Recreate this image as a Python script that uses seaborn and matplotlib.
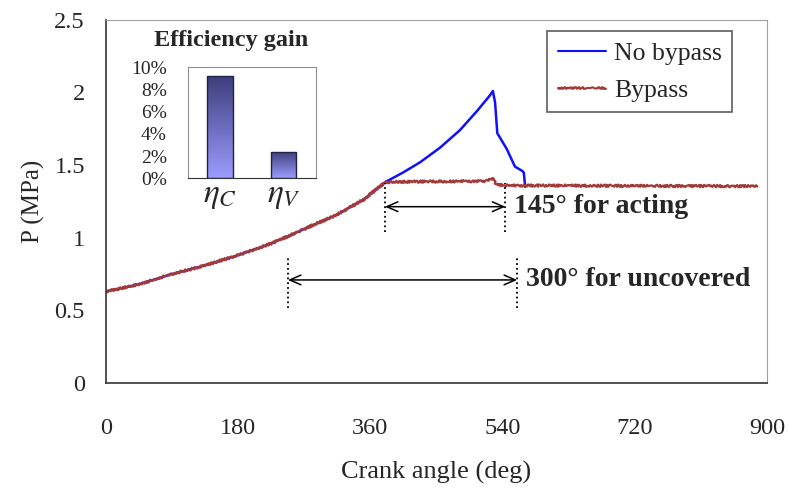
import numpy as np
import pandas as pd
import matplotlib
matplotlib.use("Agg")
import matplotlib.pyplot as plt
from matplotlib.colors import LinearSegmentedColormap
import seaborn as sns

# pressure trace (crank angle in deg, P in MPa)
common_angle = [0, 45, 90, 135, 180, 225, 270, 315, 350, 380]
common_p = [0.63, 0.68, 0.75, 0.81, 0.88, 0.96, 1.06, 1.16, 1.26, 1.38]

nobypass_angle = [383, 405, 428, 455, 482, 505, 523, 527, 530, 533, 546, 557, 567, 569, 571]
nobypass_p = [1.39, 1.45, 1.52, 1.62, 1.74, 1.87, 1.98, 2.01, 1.93, 1.72, 1.61, 1.49, 1.46, 1.45, 1.35]

bypass_angle = [390, 520, 526, 532, 545, 887]
bypass_p = [1.385, 1.39, 1.41, 1.365, 1.36, 1.355]

# inset: efficiency gain
gain_labels = [r"$\eta_C$", r"$\eta_V$"]
gain_values = [9.2, 2.4]

# annotation spans (deg)
acting_span = [380, 544]
uncovered_span = [248, 560]

sns.set_style("white")
plt.rcParams["font.family"] = ["Liberation Serif", "DejaVu Serif"]
plt.rcParams["mathtext.fontset"] = "stix"

df = pd.concat([
    pd.DataFrame({"angle": common_angle + nobypass_angle,
                  "P": common_p + nobypass_p, "case": "No bypass"}),
    pd.DataFrame({"angle": common_angle + bypass_angle,
                  "P": common_p + bypass_p, "case": "Bypass"}),
])

fig = plt.figure(figsize=(7.89, 4.95), dpi=100)
ax = fig.add_axes([0.134, 0.226, 0.838, 0.734])

sns.lineplot(data=df, x="angle", y="P", hue="case", sort=False, estimator=None,
             palette={"No bypass": "#1010ff", "Bypass": "#a33a3a"}, ax=ax)
ax.lines[0].set_linewidth(1.8)
ax.lines[1].set_linewidth(1.6)
ax.lines[1].set_sketch_params(1.2, 3, 2)

ax.set_xlim(0, 900)
ax.set_ylim(0, 2.5)
ax.set_xticks([0, 180, 360, 540, 720, 900])
ax.set_yticks([0, 0.5, 1, 1.5, 2, 2.5])
ax.set_yticklabels(["0", "0.5", "1", "1.5", "2", "2.5"])
ax.tick_params(direction="in", length=6, labelsize=17.5, color="#333333")
ax.tick_params(axis="x", pad=25)
ax.tick_params(axis="y", pad=15)
ax.set_xlabel("Crank angle (deg)", fontsize=19, labelpad=16)
ax.set_ylabel("P (MPa)", fontsize=18, labelpad=7)
for s in ["top", "right"]:
    ax.spines[s].set_color("#a0a0a0")
for s in ["left", "bottom"]:
    ax.spines[s].set_color("#333333")
    ax.spines[s].set_linewidth(1.2)

leg = ax.legend(loc="upper left", bbox_to_anchor=(0.668, 0.968), fontsize=18.5,
                frameon=True, fancybox=False, edgecolor="#333333",
                handlelength=1.9, labelspacing=0.55, borderpad=0.4,
                handletextpad=0.3, borderaxespad=0)
leg.get_frame().set_linewidth(1.2)
leg.get_lines()[1].set_sketch_params(1.0, 2, 2)

# spans with dotted markers and double arrows
for span, y0, y1, ya, label in [(acting_span, 1.04, 1.38, 1.214, "145\u00b0 for acting"),
                                (uncovered_span, 0.52, 0.87, 0.71, "300\u00b0 for uncovered")]:
    ax.vlines(span, y0, y1, colors="black", linestyles=":", linewidth=1.3)
    ax.annotate("", xy=(span[0], ya), xytext=(span[1], ya),
                arrowprops=dict(arrowstyle="<->,head_length=0.8,head_width=0.35",
                                color="black", lw=1.1, shrinkA=0, shrinkB=0))
    ax.text(span[1] + 12, ya, label, fontsize=20, fontweight="bold", va="center")

# inset bar chart
axi = fig.add_axes([0.238, 0.640, 0.162, 0.224])
sns.barplot(x=gain_labels, y=gain_values, color="#7777dd", width=0.4,
            edgecolor="#222244", linewidth=1.0, ax=axi)
cmap = LinearSegmentedColormap.from_list("bar", ["#9c9cff", "#3c3c7a"])
grad = np.linspace(0, 1, 256).reshape(-1, 1)
for p in axi.patches:
    x0, y0 = p.get_x(), p.get_y()
    w, h = p.get_width(), p.get_height()
    im = axi.imshow(grad, cmap=cmap, aspect="auto", origin="lower",
                    extent=[x0, x0 + w, y0, y0 + h], zorder=p.get_zorder() - 0.1)
    im.set_clip_path(p)
    p.set_facecolor("none")
axi.set_xlim(-0.5, 1.5)
axi.set_ylim(0, 10)
axi.set_yticks([0, 2, 4, 6, 8, 10])
axi.set_yticklabels(["0%", "2%", "4%", "6%", "8%", "10%"])
axi.set_xticks([0.5], minor=True)
axi.tick_params(axis="x", which="major", length=0, labelsize=24, pad=2)
axi.tick_params(axis="x", which="minor", direction="in", length=4)
axi.tick_params(axis="y", direction="in", length=4, labelsize=14, pad=15)
for s in ["top", "right", "left"]:
    axi.spines[s].set_color("#909090")
axi.spines["bottom"].set_color("#333333")
fig.text(0.293, 0.918, "Efficiency gain", fontsize=17.5, fontweight="bold", ha="center", va="center")

fig.savefig("out.png", dpi=100)
